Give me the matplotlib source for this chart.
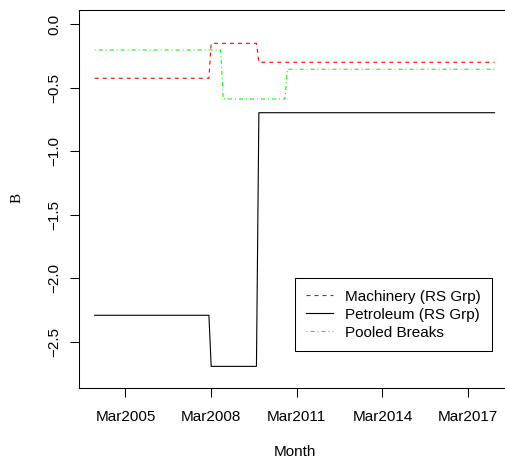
import matplotlib
matplotlib.use("Agg")
import matplotlib.pyplot as plt
import matplotlib.dates as mdates
from matplotlib.lines import Line2D
import numpy as np
import pandas as pd

# monthly sample, Feb 2004 .. Feb 2018
start_month = "2004-02-01"
end_month = "2018-02-01"

# regime levels and the first month of each new regime
mach_breaks = ["2008-03-01", "2009-11-01"]
mach_levels = [-0.425, -0.150, -0.299]
petro_breaks = ["2008-03-01", "2009-11-01"]
petro_levels = [-2.290, -2.692, -0.696]
pooled_breaks = ["2008-08-01", "2010-11-01"]
pooled_levels = [-0.202, -0.588, -0.354]

series_names = ["Machinery (RS Grp)", "Petroleum (RS Grp)", "Pooled Breaks"]

xtick_dates = ["2005-03-01", "2008-03-01", "2011-03-01", "2014-03-01", "2017-03-01"]
xtick_labels = ["Mar2005", "Mar2008", "Mar2011", "Mar2014", "Mar2017"]
ytick_vals = [0.0, -0.5, -1.0, -1.5, -2.0, -2.5]
ylim_raw = (-2.75, 0.0)

plt.rcParams["font.family"] = ["Liberation Sans", "DejaVu Sans"]
plt.rcParams["lines.scale_dashes"] = False
FS = 11

months = pd.date_range(start_month, end_month, freq="MS")
x = mdates.date2num(months.to_pydatetime())


def regime_series(breaks, levels):
    bx = mdates.date2num(pd.to_datetime(breaks).to_pydatetime())
    idx = np.searchsorted(bx, x, side="right")
    return np.asarray(levels)[idx]


mach = regime_series(mach_breaks, mach_levels)
petro = regime_series(petro_breaks, petro_levels)
pooled = regime_series(pooled_breaks, pooled_levels)

W, H = 506, 459
fig = plt.figure(figsize=(W / 100, H / 100), dpi=100)
left, right, top, bottom = 78.7, 510.5, 10.3, 387.7
ax = fig.add_axes([left / W, 1 - bottom / H, (right - left) / W, (bottom - top) / H])

px = 0.72  # one device pixel in points
dash_style = (0, (4 * px, 4 * px))
dotdash_style = (0, (1 * px, 3 * px, 4 * px, 3 * px))

ax.plot(x, mach, color="#FF0000", lw=0.8, linestyle=dash_style)
ax.plot(x, petro, color="black", lw=0.8, linestyle="-")
ax.plot(x, pooled, color="#00FF00", lw=0.8, linestyle=dotdash_style)

# R-style 4% padding on both axes
xpad = 0.04 * (x[-1] - x[0])
ax.set_xlim(x[0] - xpad, x[-1] + xpad)
ypad = 0.04 * (ylim_raw[1] - ylim_raw[0])
ax.set_ylim(ylim_raw[0] - ypad, ylim_raw[1] + ypad)

ax.set_xticks(mdates.date2num(pd.to_datetime(xtick_dates).to_pydatetime()))
ax.set_xticklabels(xtick_labels)
ax.set_yticks(ytick_vals)
ax.set_yticklabels([f"{v:.1f}".replace("-", "\u2212") for v in ytick_vals])
for lab in ax.get_yticklabels():
    lab.set_rotation(90)
    lab.set_va("center")

ax.tick_params(direction="out", length=6.5, width=0.75, labelsize=FS, color="black")
ax.tick_params(axis="x", pad=9.5)
ax.tick_params(axis="y", pad=6)
for sp in ax.spines.values():
    sp.set_linewidth(0.75)
    sp.set_color("black")

fig.text(294.6 / W, 1 - 451.7 / H, "Month", ha="center", va="center", fontsize=FS)
fig.text(17 / W, 1 - 198 / H, "B", ha="center", va="center", rotation=90,
         fontsize=FS, family=["Liberation Serif", "DejaVu Serif"])

handles = [
    Line2D([], [], color="#FF0000", lw=0.8, linestyle=dash_style),
    Line2D([], [], color="black", lw=0.8, linestyle="-"),
    Line2D([], [], color="#00FF00", lw=0.8, linestyle=dotdash_style),
]
leg = ax.legend(handles, series_names, loc="upper left",
                bbox_to_anchor=(294.7 / W, 1 - 278.3 / H), bbox_transform=fig.transFigure,
                borderaxespad=0, fancybox=False, edgecolor="black", framealpha=1,
                fontsize=FS, handlelength=1.75, handletextpad=0.8,
                borderpad=0.75, labelspacing=0.26)
leg.get_frame().set_linewidth(0.75)

fig.savefig("out.png", dpi=100)
